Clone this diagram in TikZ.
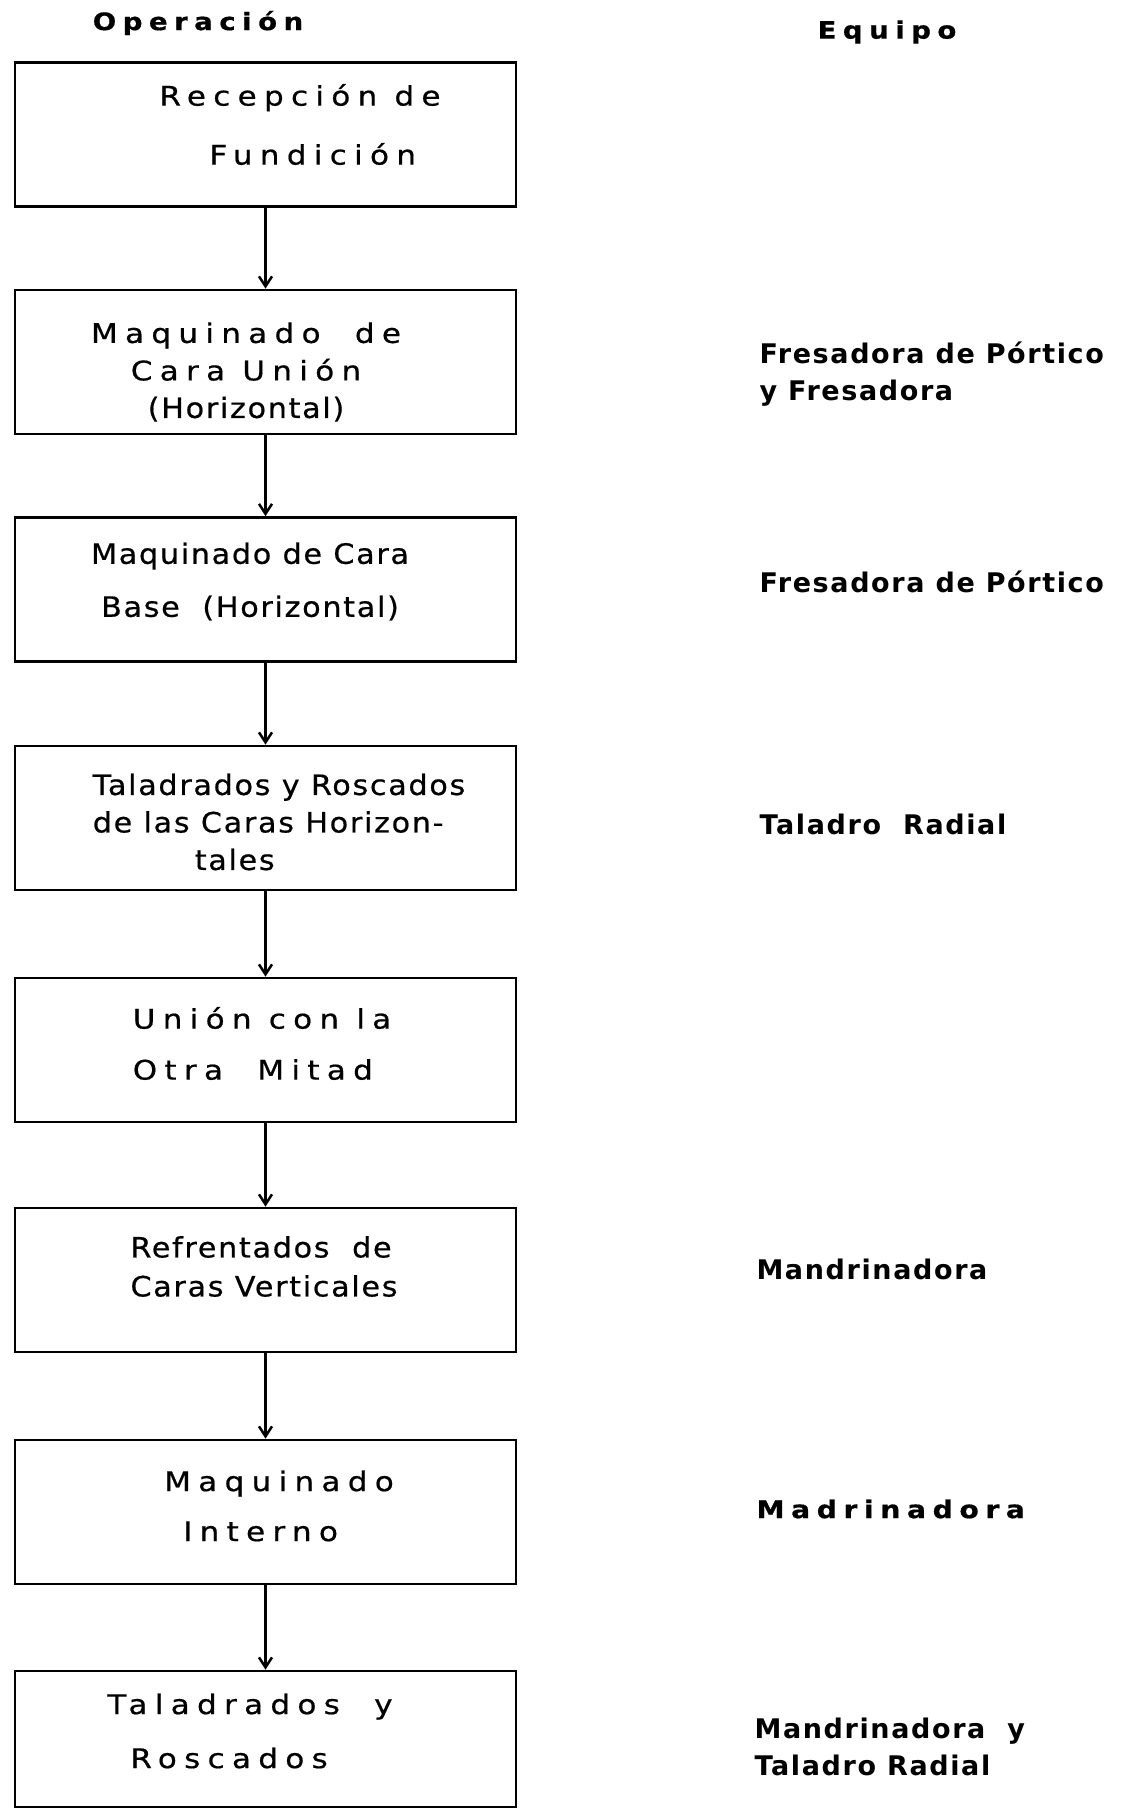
\documentclass[tikz,border=0pt]{standalone}
\usepackage{fontspec}
\setmainfont[LetterSpace=6, FakeStretch=1.08, FakeBold=0.6]{DejaVu Sans}
\newfontfamily\spacedfont[LetterSpace=27, FakeStretch=1.15, FakeBold=0.6]{DejaVu Sans}
\newfontfamily\equipfont[LetterSpace=6]{DejaVu Sans}
\usetikzlibrary{arrows.meta}

\begin{document}
\begin{tikzpicture}[x=1pt, y=-1pt,
  box/.style={rectangle, draw, line width=2.7pt, minimum width=501pt, minimum height=144pt, inner sep=0pt},
  optext/.style={align=center, font={\fontsize{28}{#1}\selectfont}},
  widetext/.style={align=center, font={\spacedfont\fontsize{27}{#1}\selectfont}},
  equip/.style={anchor=west, align=left, font={\equipfont\bfseries\fontsize{27}{37}\selectfont}},
  header/.style={font={\spacedfont\bfseries\fontsize{24}{30}\selectfont}},
  arrow/.style={-{Straight Barb[length=10pt,width=13pt]}, line width=2.5pt}
]
\useasboundingbox (0,0) rectangle (1121,1810);

\node[header] (operacion) at (198,23) {Operación};
\node[header] (equipo) at (887,32) {Equipo};

\node[box] (recepcion) at (265.5,134.5) {};
\node[box] (union) at (265.5,362) {};
\node[box] (base) at (265.5,589.5) {};
\node[box] (taladrados) at (265.5,818) {};
\node[box] (mitad) at (265.5,1050) {};
\node[box] (refrentados) at (265.5,1280) {};
\node[box] (interno) at (265.5,1512) {};
\node[box, minimum height=136pt] (roscados) at (265.5,1739) {};

\node[widetext=59, align=left] (recepcion-t) at (300,124.5) {Recepción de\\\hspace*{50pt}Fundición};
\node[widetext=37.5] (union-t) at (246,372) {Maquinado\ \ de\\Cara Unión\\\normalfont\fontsize{28}{37.5}\selectfont(Horizontal)};
\node[optext=53] (base-t) at (250,581.5) {Maquinado de Cara\\Base\ \ (Horizontal)};
\node[optext=37.5, align=left] (taladrados-t) at (279,822) {Taladrados y Roscados\\de las Caras Horizon-\\\hspace*{102pt}tales};
\node[widetext=51, align=left] (mitad-t) at (262,1043.5) {Unión con la\\Otra\ \ Mitad};
\node[optext=39, align=left] (refrentados-t) at (264,1266.5) {Refrentados\ \ de\\Caras Verticales};
\node[widetext=50, align=left] (interno-t) at (279,1506) {Maquinado\\\hspace*{19pt}Interno};
\node[widetext=54, align=left] (roscados-t) at (250,1731) {Taladrados\ \ y\\\hspace*{23pt}Roscados};

\node[equip] (fresa) at (756,374.5) {Fresadora de Pórtico\\y Fresadora};
\node[equip] (portico) at (756,582) {Fresadora de Pórtico};
\node[equip] (radial) at (756,824) {Taladro\ \ Radial};
\node[equip] (mandrinadora) at (753,1269) {Mandrinadora};
\node[equip, font={\spacedfont\bfseries\fontsize{24.5}{37}\selectfont}] (madrinadora) at (753,1509) {Madrinadora};
\node[equip] (mandrinadora-radial) at (751,1746.5) {Mandrinadora\ \ y\\Taladro Radial};

\draw[arrow] (recepcion) -- (union);
\draw[arrow] (union) -- (base);
\draw[arrow] (base) -- (taladrados);
\draw[arrow] (taladrados) -- (mitad);
\draw[arrow] (mitad) -- (refrentados);
\draw[arrow] (refrentados) -- (interno);
\draw[arrow] (interno) -- (roscados);

\end{tikzpicture}
\end{document}
